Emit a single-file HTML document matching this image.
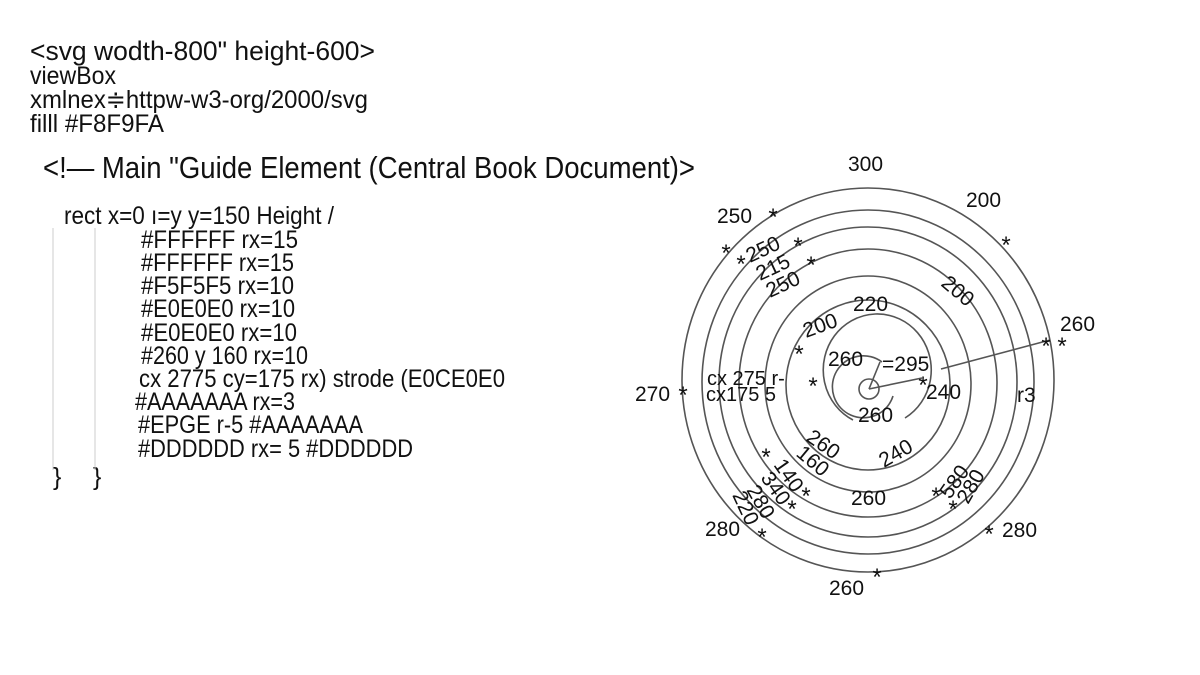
<!DOCTYPE html>
<html><head><meta charset="utf-8"><style>
html,body{margin:0;padding:0;background:#fff}
svg{display:block}
text{font-family:"Liberation Sans",sans-serif;fill:#111}
</style></head><body>
<svg width="1200" height="675" viewBox="0 0 1200 675">
<rect width="1200" height="675" fill="#fff"/>
<g font-size="27">
<text x="30" y="60" textLength="345" lengthAdjust="spacingAndGlyphs">&lt;svg wodth-800" height-600&gt;</text>
<text x="30" y="84" font-size="25" textLength="86" lengthAdjust="spacingAndGlyphs">viewBox</text>
<text x="30" y="108" font-size="25" textLength="338" lengthAdjust="spacingAndGlyphs">xmlnex≑httpw-w3-org/2000/svg</text>
<text x="30" y="132" font-size="25" textLength="134" lengthAdjust="spacingAndGlyphs">filll #F8F9FA</text>
<text x="43" y="178" font-size="31" textLength="652" lengthAdjust="spacingAndGlyphs">&lt;!— Main "Guide Element (Central Book Document)&gt;</text>
</g>
<g font-size="25">
<text x="64" y="224" textLength="270" lengthAdjust="spacingAndGlyphs">rect x=0 ı=y y=150 Height /</text>
<text x="141" y="248" textLength="157" lengthAdjust="spacingAndGlyphs">#FFFFFF rx=15</text>
<text x="141" y="271" textLength="153" lengthAdjust="spacingAndGlyphs">#FFFFFF rx=15</text>
<text x="141" y="294" textLength="153" lengthAdjust="spacingAndGlyphs">#F5F5F5 rx=10</text>
<text x="141" y="317" textLength="154" lengthAdjust="spacingAndGlyphs">#E0E0E0 rx=10</text>
<text x="141" y="341" textLength="156" lengthAdjust="spacingAndGlyphs">#E0E0E0 rx=10</text>
<text x="141" y="364" textLength="167" lengthAdjust="spacingAndGlyphs">#260 y 160 rx=10</text>
<text x="139" y="387" textLength="366" lengthAdjust="spacingAndGlyphs">cx 2775 cy=175 rx) strode (E0CE0E0</text>
<text x="135" y="410" textLength="160" lengthAdjust="spacingAndGlyphs">#AAAAAAA rx=3</text>
<text x="138" y="433" textLength="225" lengthAdjust="spacingAndGlyphs">#EPGE r-5 #AAAAAAA</text>
<text x="138" y="457" textLength="275" lengthAdjust="spacingAndGlyphs">#DDDDDD rx= 5 #DDDDDD</text>
<text x="53" y="485">}</text>
<text x="93" y="485">}</text>
</g>
<line x1="53" y1="228" x2="53" y2="470" stroke="#ccc" stroke-width="1"/>
<line x1="95" y1="228" x2="95" y2="470" stroke="#ccc" stroke-width="1"/>

<g fill="none" stroke="#555" stroke-width="1.6">
<ellipse cx="868" cy="380" rx="186" ry="192"/>
<ellipse cx="868" cy="382" rx="166" ry="172"/>
<ellipse cx="868" cy="382" rx="149" ry="155"/>
<ellipse cx="868" cy="383" rx="129" ry="134"/>
<ellipse cx="868" cy="384" rx="103" ry="108"/>
<ellipse cx="868" cy="385" rx="82" ry="85"/>
<path d="M 853 420 A 54 56 0 1 1 905 418"/>
<path d="M 882 362 A 31 31 0 1 0 893 396"/>
<circle cx="869" cy="389" r="10"/>
<line x1="869" y1="389" x2="922" y2="378"/>
<line x1="941" y1="369" x2="1050" y2="340"/>
<line x1="869" y1="389" x2="880" y2="362"/>
</g>
<g font-size="21" fill="#111">
<text x="848" y="171">300</text>
<text x="966" y="207">200</text>
<text x="717" y="223">250</text>
<text x="1060" y="331">260</text>
<text x="635" y="401">270</text>
<text x="1017" y="402">r3</text>
<text x="705" y="536">280</text>
<text x="1002" y="537">280</text>
<text x="829" y="595">260</text>
<text x="853" y="311">220</text>
<text x="828" y="366">260</text>
<text x="882" y="371">=295</text>
<text x="926" y="399">240</text>
<text x="858" y="422">260</text>
<text x="851" y="505">260</text>
<text x="707" y="385" font-size="20">cx 275 r-</text>
<text x="706" y="401" font-size="20">cx175 5</text>
<text transform="translate(806,338) rotate(-20)">200</text>
<text transform="translate(750,263) rotate(-25)">250</text>
<text transform="translate(760,281) rotate(-25)">215</text>
<text transform="translate(770,298) rotate(-25)">250</text>
<text transform="translate(940,285) rotate(40)">200</text>
<text transform="translate(884,468) rotate(-30)">240</text>
<text transform="translate(805,440) rotate(35)">260</text>
<text transform="translate(795,455) rotate(40)">160</text>
<text transform="translate(773,465) rotate(55)">140</text>
<text transform="translate(760,478) rotate(55)">340</text>
<text transform="translate(746,490) rotate(60)">280</text>
<text transform="translate(732,495) rotate(65)">220</text>
<text transform="translate(950,500) rotate(-55)">580</text>
<text transform="translate(968,505) rotate(-60)">280</text>
</g>
<g font-size="24" fill="#111" text-anchor="middle">
<text x="773" y="225">*</text><text x="726" y="261">*</text><text x="741" y="272">*</text>
<text x="798" y="254">*</text><text x="811" y="273">*</text><text x="1006" y="253">*</text>
<text x="1046" y="354">*</text><text x="1062" y="354">*</text><text x="683" y="403">*</text>
<text x="799" y="362">*</text><text x="813" y="394">*</text><text x="923" y="393">*</text>
<text x="766" y="465">*</text><text x="806" y="504">*</text><text x="792" y="517">*</text>
<text x="762" y="545">*</text><text x="936" y="504">*</text><text x="953" y="517">*</text>
<text x="989" y="542">*</text><text x="877" y="585">*</text>
</g>
</svg>
</body></html>
